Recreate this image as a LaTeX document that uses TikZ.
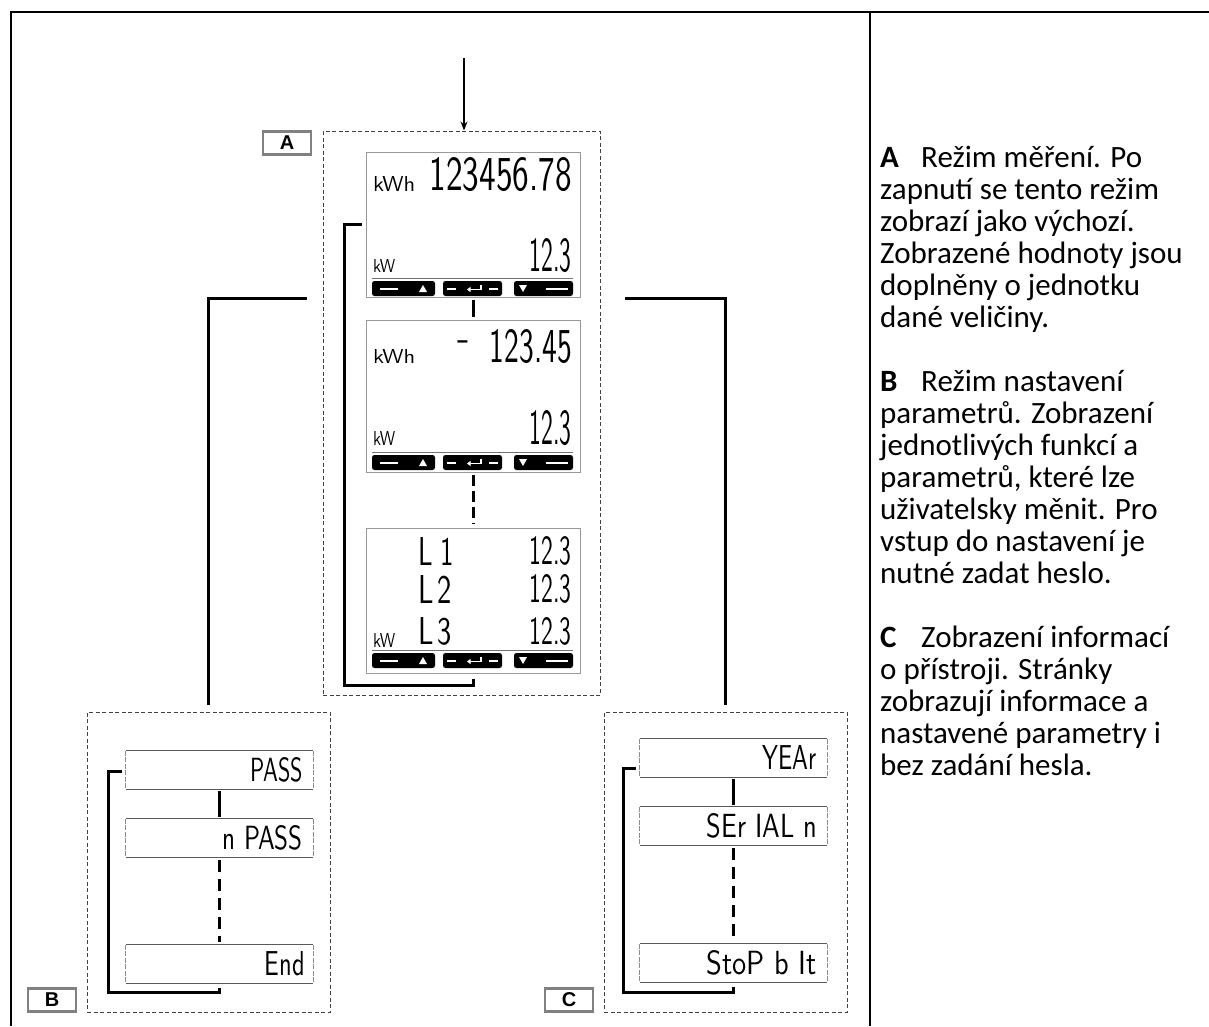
\documentclass[tikz,border=0pt]{standalone}
\usepackage{fontspec}
\setmainfont{Carlito}
\newfontfamily\labfont{Liberation Sans}
\usetikzlibrary{arrows.meta}
\newcommand\lcd[3]{\resizebox{#1pt}{#2pt}{\sffamily #3}}
\newcommand\lcdbar[1]{%
\begin{scope}[shift={(0,#1)}]
\draw[black!55, line width=0.6pt] (372,-3) -- (573,-3);
\fill[black, rounded corners=2.5pt] (372,0) rectangle (435,15);
\fill[black, rounded corners=2.5pt] (443,0) rectangle (502,15);
\fill[black, rounded corners=2.5pt] (514,0) rectangle (573,15);
\draw[white, line width=2pt] (380,7.5) -- (398,7.5) (447,7.5) -- (456,7.5) (489,7.5) -- (498,7.5) (546,7.5) -- (568,7.5);
\fill[white] (419,11) -- (427,11) -- (423,4) -- cycle;
\fill[white] (519,4) -- (527,4) -- (523,11) -- cycle;
\draw[white, line width=1.6pt, -{Triangle[length=3.5pt,width=5pt]}] (481,4) -- (481,8.5) -- (467,8.5);
\end{scope}}
\newcommand\subframe[1]{%
\draw[black!65, line width=1pt] (#1.north west) -- (#1.north east) (#1.south west) -- (#1.south east);
\draw[black!45, line width=0.8pt, dash pattern=on 5pt off 1.5pt] (#1.north west) -- (#1.south west) (#1.north east) -- (#1.south east);}
\begin{document}
\begin{tikzpicture}[x=1pt,y=-1pt,
  frameline/.style={line width=2pt, black},
  dashbox/.style={draw=black!75, line width=1pt, dash pattern=on 4pt off 2.5pt, inner sep=0pt},
  screen/.style={draw=black!40, line width=0.9pt, minimum width=214pt, inner sep=0pt},
  sub/.style={minimum width=187pt, minimum height=38pt, inner sep=0pt},
  conn/.style={line width=3pt, black},
  arr/.style={line width=1.3pt, -{Stealth[length=9pt,width=7pt]}},
  lbl/.style={draw=black!50, line width=2.5pt, minimum width=48pt, minimum height=23pt, inner sep=0pt, font=\labfont\bfseries\fontsize{20}{20}\selectfont},
  seg/.style={inner sep=0pt},
  txt/.style={inner sep=0pt, anchor=base west, font=\fontsize{31}{32}\selectfont}]
\useasboundingbox (0,0) rectangle (1209,1026);
\fill[white] (0,0) rectangle (1209,1026);
% frame
\draw[frameline] (11,1026) -- (11,12) -- (1209,12);
\draw[frameline] (870,12) -- (870,1026);
% dashed group boxes
\node[dashbox, minimum width=277pt, minimum height=564pt] (boxA) at (461.5,413) {};
\node[dashbox, minimum width=243pt, minimum height=300pt] (boxB) at (208.5,862) {};
\node[dashbox, minimum width=243pt, minimum height=300pt] (boxC) at (725.5,862) {};
% labels
\node[lbl] (labA) at (287,143) {A};
\node[lbl] (labB) at (52,1000) {B};
\node[lbl] (labC) at (569,1000) {C};
% input arrow
\coordinate (in) at (464,58);
\draw[arr] (in) -- (in |- boxA.north);
% screens
\node[screen, minimum height=145pt] (scr1) at (473,224.5) {};
\node[screen, minimum height=152pt] (scr2) at (473,396) {};
\node[screen, minimum height=145pt] (scr3) at (473,600.5) {};
% screen 1
\node[seg, anchor=south west] (s1u) at (373,192) {\lcd{42}{15}{kWh}};
\node[seg, anchor=south east] (s1v) at (572,192) {\lcd{142}{33}{123456.78}};
\node[seg, anchor=south west] (s1w) at (373,273) {\lcd{22}{13}{kW}};
\node[seg, anchor=south east] (s1x) at (572,273) {\lcd{42}{33}{12.3}};
\lcdbar{281}
% screen 2
\node[seg, anchor=south west] (s2u) at (373,364) {\lcd{42}{14}{kWh}};
\node[seg] (s2m) at (464,346) {\fontsize{40}{40}\sffamily -};
\node[seg, anchor=south east] (s2v) at (572,364) {\lcd{82}{33}{123.45}};
\node[seg, anchor=south west] (s2w) at (373,446) {\lcd{22}{14}{kW}};
\node[seg, anchor=south east] (s2x) at (572,446) {\lcd{42}{34}{12.3}};
\lcdbar{455}
% screen 3
\node[seg, anchor=south west] (s3a) at (418,566) {\lcd{36}{28}{L\kern0.3em1}};
\node[seg, anchor=south east] (s3b) at (572,566) {\lcd{42}{28}{12.3}};
\node[seg, anchor=south west] (s3c) at (418,604) {\lcd{34}{28}{L\kern0.15em2}};
\node[seg, anchor=south east] (s3d) at (572,604) {\lcd{42}{28}{12.3}};
\node[seg, anchor=south west] (s3e) at (418,646) {\lcd{34}{27}{L\kern0.15em3}};
\node[seg, anchor=south east] (s3f) at (572,646) {\lcd{42}{27}{12.3}};
\node[seg, anchor=south west] (s3g) at (373,648) {\lcd{22}{14}{kW}};
\lcdbar{653}
% connectors in A
\draw[conn] ([yshift=-3pt]scr1.south) -- ([yshift=3pt]scr2.north);
\draw[conn, dash pattern=on 11pt off 5pt] ([yshift=-3pt]scr2.south) -- ([yshift=4pt]scr3.north);
\coordinate (lA1) at (344,224.5);
\coordinate (lA2) at (344,685);
\draw[conn, line join=miter] ([xshift=-4pt]scr1.west) -- (lA1) -- (lA2) -| ([yshift=-6pt]scr3.south);
% branches
\coordinate (bB) at (307,298);
\coordinate (bC) at (625,298);
\draw[conn, line join=miter] (bB) -| ([yshift=7pt]boxB.north);
\draw[conn, line join=miter] (bC) -| ([yshift=7pt]boxC.north);
% group B
\node[sub] (pB1) at (219.5,770) {};
\node[sub] (pB2) at (219.5,838) {};
\node[sub] (pB3) at (219.5,964) {};
\subframe{pB1}\subframe{pB2}\subframe{pB3}
\node[seg, anchor=south east] (tB1) at (303,782) {\lcd{52}{24}{PASS}};
\node[seg, anchor=south east] (tB2) at (303,850) {\lcd{80}{24}{n PASS}};
\node[seg, anchor=south east] (tB3) at (305,976) {\lcd{40}{24}{End}};
\draw[conn] ([yshift=-2pt]pB1.south) -- ([yshift=2pt]pB2.north);
\draw[conn, dash pattern=on 12pt off 7pt] ([yshift=-3pt]pB2.south) -- ([yshift=3pt]pB3.north);
\coordinate (lB1) at (108,771);
\coordinate (lB2) at (108,992);
\draw[conn, line join=miter] ([xshift=-4pt]pB1.west |- lB1) -- (lB1) -- (lB2) -| ([yshift=-5pt]pB3.south);
% group C
\node[sub] (pC1) at (733.5,758) {};
\node[sub] (pC2) at (733.5,826) {};
\node[sub] (pC3) at (733.5,963) {};
\subframe{pC1}\subframe{pC2}\subframe{pC3}
\node[seg, anchor=south east] (tC1) at (817,770) {\lcd{54}{24}{YEAr}};
\node[seg, anchor=south east] (tC2) at (817,838) {\lcd{110}{24}{SEr IAL n}};
\node[seg, anchor=south east] (tC3) at (817,975) {\lcd{110}{24}{StoP b It}};
\draw[conn] ([yshift=-2pt]pC1.south) -- ([yshift=2pt]pC2.north);
\draw[conn, dash pattern=on 12pt off 7pt] ([yshift=-3pt]pC2.south) -- ([yshift=3pt]pC3.north);
\coordinate (lC1) at (623,768);
\coordinate (lC2) at (623,992);
\draw[conn, line join=miter] ([xshift=-4pt]pC1.west |- lC1) -- (lC1) -- (lC2) -| ([yshift=-5pt]pC3.south);
% description text
\foreach \k/\l [count=\i] in {
 0/{\makebox[41pt][l]{\textbf{A}}Režim měření. Po},
 1/{zapnutí se tento režim},
 2/{zobrazí jako výchozí.},
 3/{Zobrazené hodnoty jsou},
 4/{doplněny o jednotku},
 5/{dané veličiny.},
 7/{\makebox[41pt][l]{\textbf{B}}Režim nastavení},
 8/{parametrů. Zobrazení},
 9/{jednotlivých funkcí a},
 10/{parametrů, které lze},
 11/{uživatelsky měnit. Pro},
 12/{vstup do nastavení je},
 13/{nutné zadat heslo.},
 15/{\makebox[41pt][l]{\textbf{C}}Zobrazení informací},
 16/{o přístroji. Stránky},
 17/{zobrazují informace a},
 18/{nastavené parametry i},
 19/{bez zadání hesla.}}
 \node[txt] (t\i) at (880,{167+32*\k}) {\l};
\end{tikzpicture}
\end{document}
